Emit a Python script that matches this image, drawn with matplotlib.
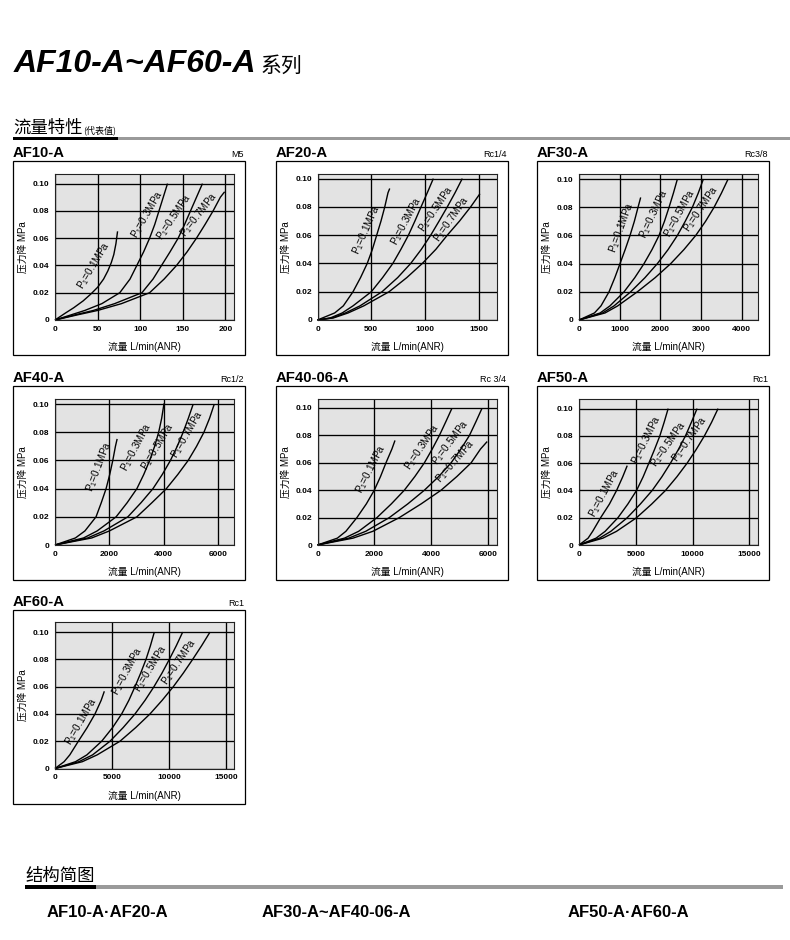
import matplotlib
matplotlib.use('Agg')
import matplotlib.pyplot as plt
from matplotlib.patches import Rectangle
from matplotlib.transforms import offset_copy

plt.rcParams['font.family'] = ['Liberation Sans', 'Noto Sans CJK SC']
plt.rcParams['mathtext.fontset'] = 'custom'
plt.rcParams['mathtext.rm'] = 'Liberation Sans'
plt.rcParams['mathtext.it'] = 'Liberation Sans'

# ---------------- data ----------------
PANEL_NAMES = ['AF10-A', 'AF20-A', 'AF30-A', 'AF40-A', 'AF40-06-A', 'AF50-A', 'AF60-A']
PORT_SIZES = ['M5', 'Rc1/4', 'Rc3/8', 'Rc1/2', 'Rc 3/4', 'Rc1', 'Rc1']
PRESSURE_LABELS = ['0.1', '0.3', '0.5', '0.7']
X_TICKS = [[0, 50, 100, 150, 200],
           [0, 500, 1000, 1500],
           [0, 1000, 2000, 3000, 4000],
           [0, 2000, 4000, 6000],
           [0, 2000, 4000, 6000],
           [0, 5000, 10000, 15000],
           [0, 5000, 10000, 15000]]
X_MAX = [210, 1663, 4400, 6577, 6304, 15765, 15702]
Y_MAX = [0.1074, 0.1036, 0.104, 0.104, 0.1069, 0.1074, 0.1074]
Y_TICKS = [0, 0.02, 0.04, 0.06, 0.08, 0.10]
Y_TICK_LABELS = ['0', '0.02', '0.04', '0.06', '0.08', '0.10']

L12 = [0, 0.005, 0.01, 0.02, 0.03, 0.04, 0.05, 0.06, 0.07, 0.08, 0.09, 0.10]

# AF10-A
af10_flow = [[0, 12, 22, 33, 42, 50, 57, 62, 66, 69, 71.5, 73.4],
             [0, 20, 35, 55, 76, 88, 96, 104, 111, 117, 122, 127, 132],
             [0, 25, 45, 70, 102, 115, 125, 135, 144.5, 152, 159, 166, 173],
             [0, 28, 50, 78, 111, 128, 142.6, 155, 166, 176, 185.5, 194, 199]]
af10_drop = [[0, 0.005, 0.009, 0.014, 0.019, 0.024, 0.03, 0.036, 0.042, 0.048, 0.056, 0.065],
             [0, 0.004, 0.007, 0.012, 0.02, 0.03, 0.04, 0.05, 0.06, 0.07, 0.08, 0.09, 0.10],
             [0, 0.004, 0.007, 0.012, 0.02, 0.03, 0.04, 0.05, 0.06, 0.07, 0.08, 0.09, 0.10],
             [0, 0.004, 0.007, 0.012, 0.02, 0.03, 0.04, 0.05, 0.06, 0.07, 0.08, 0.09, 0.094]]
# AF20-A
af20_flow = [[0, 160, 240, 330, 400, 462, 510, 550, 590, 625, 655, 671],
             [0, 120, 230, 330, 500, 605, 700, 775, 845, 905, 962, 1020, 1076],
             [0, 140, 260, 395, 600, 745, 866, 965, 1052, 1130, 1206, 1278, 1345],
             [0, 150, 285, 430, 665, 830, 974, 1100, 1206, 1320, 1423, 1509]]
af20_drop = [[0, 0.005, 0.01, 0.02, 0.03, 0.04, 0.05, 0.06, 0.07, 0.08, 0.09, 0.093],
             [0, 0.0015, 0.005, 0.01, 0.02, 0.03, 0.04, 0.05, 0.06, 0.07, 0.08, 0.09, 0.10],
             [0, 0.0015, 0.005, 0.01, 0.02, 0.03, 0.04, 0.05, 0.06, 0.07, 0.08, 0.09, 0.10],
             [0, 0.0015, 0.005, 0.01, 0.02, 0.03, 0.04, 0.05, 0.06, 0.07, 0.08, 0.0893]]
# AF30-A
af30_flow = [[0, 380, 540, 738, 880, 1008, 1135, 1254, 1360, 1451, 1516],
             [0, 520, 760, 1107, 1370, 1598, 1795, 1967, 2100, 2213, 2320, 2418],
             [0, 580, 860, 1270, 1620, 1926, 2190, 2418, 2610, 2787, 2930, 3057],
             [0, 640, 950, 1434, 1870, 2254, 2580, 2869, 3110, 3320, 3500, 3664]]
af30_drop = [[0, 0.005, 0.01, 0.02, 0.03, 0.04, 0.05, 0.06, 0.07, 0.08, 0.087],
             L12, L12, L12]
# AF40-A
af40_flow = [[0, 750, 1100, 1508, 1700, 1877, 2010, 2123, 2220, 2283],
             [0, 1050, 1550, 2246, 2650, 3009, 3260, 3477, 3660, 3809, 3920, 4006],
             [0, 1200, 1800, 2677, 3160, 3600, 3940, 4240, 4490, 4708, 4900, 5077],
             [0, 1350, 2000, 3009, 3560, 4092, 4510, 4892, 5200, 5471, 5680, 5852]]
af40_drop = [[0, 0.005, 0.01, 0.02, 0.03, 0.04, 0.05, 0.06, 0.07, 0.0753],
             [0, 0.005, 0.01, 0.02, 0.03, 0.04, 0.05, 0.06, 0.07, 0.08, 0.09, 0.1005],
             L12, L12]
# AF40-06-A
af4006_flow = [[0, 700, 1000, 1388, 1720, 2000, 2220, 2412, 2620, 2729],
               [0, 950, 1450, 2094, 2600, 3059, 3430, 3765, 4040, 4294, 4520, 4729],
               [0, 1100, 1700, 2529, 3180, 3765, 4270, 4706, 5050, 5353, 5580, 5788],
               [0, 1250, 1950, 2882, 3650, 4353, 4910, 5412, 5740, 5976]]
af4006_drop = [[0, 0.005, 0.01, 0.02, 0.03, 0.04, 0.05, 0.06, 0.07, 0.0763],
               [0, 0.005, 0.01, 0.02, 0.03, 0.04, 0.05, 0.06, 0.07, 0.08, 0.09, 0.0995],
               [0, 0.005, 0.01, 0.02, 0.03, 0.04, 0.05, 0.06, 0.07, 0.08, 0.09, 0.0995],
               [0, 0.005, 0.01, 0.02, 0.03, 0.04, 0.05, 0.06, 0.07, 0.0755]]
# AF50-A
af50_flow = [[0, 800, 1200, 1904, 2680, 3311, 3850, 4248],
             [0, 1500, 2300, 3428, 4300, 5069, 5650, 6153, 6650, 7120, 7500, 7852],
             [0, 1800, 2800, 4248, 5400, 6446, 7300, 8057, 8750, 9376, 9900, 10401],
             [0, 2100, 3300, 5069, 6400, 7618, 8620, 9522, 10320, 11046, 11680, 12247]]
af50_drop = [[0, 0.005, 0.01, 0.02, 0.03, 0.04, 0.05, 0.0582],
             L12, L12, L12]
# AF60-A
af60_flow = [[0, 800, 1300, 2047, 2820, 3509, 4050, 4327],
             [0, 1800, 2800, 4094, 5050, 5848, 6480, 7018, 7520, 7982, 8370, 8713],
             [0, 2100, 3300, 4825, 5980, 7018, 7900, 8684, 9390, 10029, 10640, 11199],
             [0, 2400, 3700, 5702, 7080, 8333, 9400, 10380, 11260, 12076, 12860, 13596]]
af60_drop = [[0, 0.005, 0.01, 0.02, 0.03, 0.04, 0.05, 0.0566],
             L12, L12, L12]

FLOWS = [af10_flow, af20_flow, af30_flow, af40_flow, af4006_flow, af50_flow, af60_flow]
DROPS = [af10_drop, af20_drop, af30_drop, af40_drop, af4006_drop, af50_drop, af60_drop]

# curve label anchor positions (data coords) and angles
LABEL_X = [[49.6, 112, 143.4, 172.7],
           [480, 851, 1129, 1274],
           [1120, 1926, 2541, 3074],
           [1714, 3086, 3880, 4959],
           [1980, 3788, 4780, 4950],
           [2490, 6212, 8116, 10020],
           [2544, 6579, 8684, 11170]]
LABEL_Y = [[0.039, 0.0767, 0.075, 0.0767],
           [0.0628, 0.0692, 0.0775, 0.0704],
           [0.065, 0.0745, 0.0752, 0.078],
           [0.0552, 0.069, 0.069, 0.0779],
           [0.0543, 0.0709, 0.0738, 0.0604],
           [0.0373, 0.0762, 0.073, 0.0767],
           [0.0338, 0.0706, 0.0723, 0.0772]]
LABEL_ANGLE = [[59, 60, 56, 52],
               [66, 62, 56, 55],
               [70, 65, 61, 56],
               [69, 62, 59, 60],
               [63, 56, 53, 49],
               [62, 64, 55, 55],
               [60, 62, 59, 56]]

# ---------------- layout ----------------
W, H = 790, 940
fig = plt.figure(figsize=(W / 100, H / 100), dpi=100)
fig.patch.set_facecolor('white')


def fx(x):
    return x / W


def fy(y):
    return 1 - y / H


def hbar(x0, x1, y, h, color):
    fig.add_artist(Rectangle((fx(x0), fy(y + h)), (x1 - x0) / W, h / H,
                             transform=fig.transFigure, color=color, lw=0))


# Title
fig.text(fx(14), fy(72), 'AF10-A~AF60-A', fontsize=23, fontweight='bold',
         fontstyle='italic', ha='left', va='baseline', family='Liberation Sans')
fig.text(fx(261), fy(72), '系列', fontsize=15, ha='left', va='baseline',
         family='Noto Sans CJK SC')

# section header
fig.text(fx(13), fy(133), '流量特性', fontsize=12.5, ha='left', va='baseline',
         family='Noto Sans CJK SC')
fig.text(fx(83), fy(133), '(代表值)', fontsize=6.5, ha='left', va='baseline',
         family='Noto Sans CJK SC')
hbar(118, 790, 136.5, 3.5, '#9a9a9a')
hbar(13, 118, 136.5, 3.5, 'black')

BOX_LEFT = [13, 275.5, 537]
BOX_TOP = [161, 386, 609.5]
BOX_W, BOX_H = 232, 194

for i, name in enumerate(PANEL_NAMES):
    r, c = divmod(i, 3)
    bx, by = BOX_LEFT[c], BOX_TOP[r]
    fig.add_artist(Rectangle((fx(bx), fy(by + BOX_H)), BOX_W / W, BOX_H / H,
                             transform=fig.transFigure, fill=False,
                             ec='black', lw=0.9))
    fig.text(fx(bx), fy(by - 4), name, fontsize=10.7, fontweight='bold',
             ha='left', va='baseline')
    fig.text(fx(bx + BOX_W - 1), fy(by - 4), PORT_SIZES[i], fontsize=6.5,
             ha='right', va='baseline')

    px, py, pw, ph = bx + 42, by + 12.5, 179, 146.5
    ax = fig.add_axes([fx(px), fy(py + ph), pw / W, ph / H])
    ax.set_facecolor('#e3e3e3')
    ax.set_xlim(0, X_MAX[i])
    ax.set_ylim(0, Y_MAX[i])
    ax.set_xticks(X_TICKS[i])
    ax.set_xticklabels([str(t) for t in X_TICKS[i]])
    ax.set_yticks(Y_TICKS)
    ax.set_yticklabels(Y_TICK_LABELS)
    ax.tick_params(length=0, labelsize=6, pad=4)
    for lab in ax.get_xticklabels() + ax.get_yticklabels():
        lab.set_fontweight('bold')
    ax.grid(True, color='black', lw=0.95)
    ax.set_axisbelow(True)
    for s in ax.spines.values():
        s.set_color('#222222')
        s.set_linewidth(0.8)

    label_tr = offset_copy(ax.transData, fig=fig, x=-3, y=1, units='dots')
    for k in range(4):
        ax.plot(FLOWS[i][k], DROPS[i][k], color='black', lw=1.0,
                solid_capstyle='butt', solid_joinstyle='round', clip_on=False)
        ax.text(LABEL_X[i][k], LABEL_Y[i][k],
                'P$_1$=' + PRESSURE_LABELS[k] + 'MPa', fontsize=7.2,
                rotation=LABEL_ANGLE[i][k], rotation_mode='anchor',
                ha='center', va='center', transform=label_tr)

    fig.text(fx(px + pw / 2), fy(by + 186), '流量 L/min(ANR)', fontsize=7,
             ha='center', va='center')
    fig.text(fx(bx + 10), fy(py + ph / 2), '压力降 MPa', fontsize=7,
             ha='center', va='center', rotation=90)

# bottom section
fig.text(fx(25), fy(881), '结构简图', fontsize=12.5, ha='left', va='baseline',
         family='Noto Sans CJK SC')
hbar(96, 783, 885, 3.5, '#9a9a9a')
hbar(25, 96, 885, 3.5, 'black')
fig.text(fx(47), fy(917), 'AF10-A·AF20-A', fontsize=12, fontweight='bold',
         ha='left', va='baseline')
fig.text(fx(262), fy(917), 'AF30-A~AF40-06-A', fontsize=12, fontweight='bold',
         ha='left', va='baseline')
fig.text(fx(568), fy(917), 'AF50-A·AF60-A', fontsize=12, fontweight='bold',
         ha='left', va='baseline')

fig.savefig('out.png', dpi=100, facecolor='white')
